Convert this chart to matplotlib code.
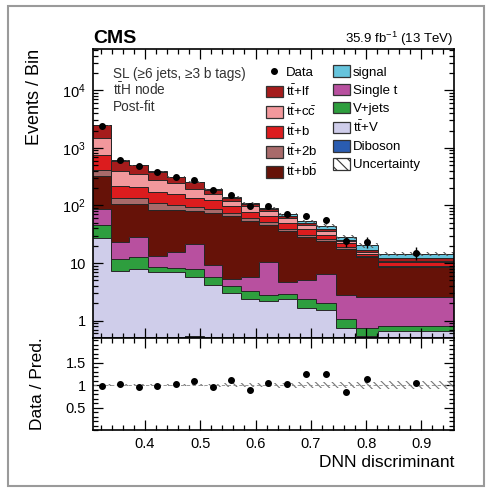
import matplotlib
matplotlib.use('Agg')
import matplotlib.pyplot as plt
import numpy as np
from matplotlib.patches import Patch, Rectangle
from matplotlib.lines import Line2D
from matplotlib.ticker import FixedLocator, MultipleLocator, LogLocator, NullFormatter

plt.rcParams['font.family'] = ['Liberation Sans', 'DejaVu Sans']
plt.rcParams['mathtext.fontset'] = 'custom'
plt.rcParams['mathtext.rm'] = 'Liberation Sans'
plt.rcParams['mathtext.it'] = 'Liberation Sans:italic'
plt.rcParams['mathtext.bf'] = 'Liberation Sans:bold'
plt.rcParams['hatch.linewidth'] = 0.8

# binning of the DNN output
edges = [0.306, 0.338, 0.372, 0.405, 0.439, 0.472, 0.506, 0.539, 0.573,
         0.606, 0.640, 0.675, 0.709, 0.745, 0.782, 0.821, 0.959]

# post-fit yields per bin
diboson = [0, 0, 0, 0, 0, 0.54, 0, 0, 0, 0, 0, 0, 0, 0, 0, 0]
ttv = [27.4, 7.4, 7.8, 7.1, 6.9, 5.1, 4.2, 3.0, 2.4, 2.2, 2.4, 1.66, 1.51, 0.76, 0.55, 0.65]
vjets = [17.5, 4.2, 4.7, 1.6, 1.4, 2.3, 1.6, 0.98, 0.91, 0.6, 0.56, 0.73, 0.49, 0.33, 0.21, 0.15]
singlet = [42.8, 11.4, 16.4, 4.8, 7.1, 13.6, 3.6, 1.4, 2.4, 7.5, 1.7, 2.6, 4.5, 1.74, 1.78, 1.74]
ttbb = [231, 81, 78, 71.5, 66.6, 59, 64.6, 59, 48.1, 35.5, 30.7, 23.3, 17.6, 14.9, 10.1, 6.0]
tt2b = [98, 32, 29, 25, 18, 13.6, 13, 9.6, 6.8, 5.9, 3.7, 3.0, 2.1, 1.1, 0.5, 0.5]
ttb = [325, 78, 72, 60, 55, 42.4, 35, 22, 16.4, 12.7, 9.6, 7.0, 5.1, 3.3, 1.3, 1.6]
ttcc = [758, 181, 138, 110, 89, 59, 38, 24, 19, 14.3, 10.8, 7.5, 4.7, 2.5, 1.4, 0.4]
ttlf = [956, 208, 148, 107, 64, 56, 28, 16, 11, 9.3, 6.3, 4.5, 3.8, 0.7, 1.2, 1.2]
signal = [4, 2.5, 2.5, 2.5, 2.5, 2.5, 3, 3, 3, 3.2, 4, 3, 4.2, 2.8, 3.2, 2.2]
data = [2411, 618, 477, 382, 317, 277, 183, 154, 98, 96, 71, 66, 55, 24, 23, 15]
rel_unc = [0.02, 0.02, 0.025, 0.025, 0.03, 0.03, 0.035, 0.04, 0.045, 0.05,
           0.055, 0.06, 0.065, 0.07, 0.08, 0.09]

# stack order, bottom to top
layers = [
    (diboson, '#2a5cb0', 'Diboson'),
    (ttv, '#cfcdea', r'$\mathrm{t\bar{t}}$+V'),
    (vjets, '#2e9e3e', 'V+jets'),
    (singlet, '#b8509f', 'Single t'),
    (ttbb, '#661208', r'$\mathrm{t\bar{t}}$+$\mathrm{b\bar{b}}$'),
    (tt2b, '#a86a6a', r'$\mathrm{t\bar{t}}$+2b'),
    (ttb, '#dc1c1e', r'$\mathrm{t\bar{t}}$+b'),
    (ttcc, '#f2989c', r'$\mathrm{t\bar{t}}$+$\mathrm{c\bar{c}}$'),
    (ttlf, '#a51c1c', r'$\mathrm{t\bar{t}}$+lf'),
    (signal, '#66c4dc', 'signal'),
]

edges = np.array(edges)
centers = 0.5 * (edges[1:] + edges[:-1])
data = np.array(data, dtype=float)
rel_unc = np.array(rel_unc)

W, H = 492, 488
fig = plt.figure(figsize=(W / 100, H / 100), dpi=100)
ax = fig.add_axes([93 / W, 1 - 338 / H, 361 / W, 289 / H])
rax = fig.add_axes([93 / W, 1 - 430 / H, 361 / W, 92 / H], sharex=ax)

# stacked histograms
cum = np.zeros(len(centers))
tops = []
for vals, col, lab in layers:
    base = cum.copy()
    cum = cum + np.array(vals, dtype=float)
    ax.stairs(cum, edges, baseline=np.maximum(base, 1e-3), fill=True,
              color=col, lw=0)
    tops.append(cum.copy())
for top in tops:
    ax.stairs(top, edges, baseline=None, color='#262626', lw=0.7)
total = cum

# uncertainty band
ax.stairs(total * (1 + rel_unc), edges, baseline=total * (1 - rel_unc),
          fill=True, facecolor='none', edgecolor='#555555', lw=0,
          hatch='\\\\\\\\')

ax.errorbar(centers, data, yerr=np.sqrt(data), fmt='o', color='k', ms=4,
            elinewidth=1, capsize=0, zorder=5)

ax.set_yscale('log')
ax.set_ylim(0.5, 5.2e4)
ax.set_xlim(edges[0], edges[-1])
ax.yaxis.set_major_locator(FixedLocator([1, 10, 100, 1000, 10000]))
ax.set_yticklabels(['1', '10', r'$10^2$', r'$10^3$', r'$10^4$'])
ax.yaxis.set_minor_locator(LogLocator(base=10, subs=np.arange(2, 10)))
ax.yaxis.set_minor_formatter(NullFormatter())
ax.tick_params(labelbottom=False)

# ratio panel
ratio = data / total
rax.stairs(1 + rel_unc, edges, baseline=1 - rel_unc, fill=True,
           facecolor='none', edgecolor='#777777', lw=0, hatch='\\\\\\\\')
rax.axhline(1, color='#888888', lw=0.6, ls=(0, (4, 3)))
rax.plot(centers, ratio, 'o', color='k', ms=4, zorder=5)
rax.set_ylim(0.0, 2.05)
rax.set_yticks([0.5, 1, 1.5])
rax.set_yticklabels(['0.5', '1', '1.5'])
rax.yaxis.set_minor_locator(MultipleLocator(0.1))
rax.xaxis.set_major_locator(MultipleLocator(0.1))
rax.xaxis.set_minor_locator(MultipleLocator(0.02))

for a in (ax, rax):
    a.tick_params(which='both', direction='in', top=True, right=True,
                  labelsize=10.5, width=0.9, pad=5)
    a.tick_params(which='major', length=7)
    a.tick_params(which='minor', length=3.5)
    for s in a.spines.values():
        s.set_linewidth(1.2)

ax.set_ylabel('Events / Bin', fontsize=13, loc='top')
ax.yaxis.set_label_coords(-0.1385, 1.0)
rax.set_ylabel('Data / Pred.', fontsize=12.5)
rax.yaxis.set_label_coords(-0.133, 0.5)
rax.set_xlabel('DNN discriminant', fontsize=12.5, loc='right')
rax.xaxis.set_label_coords(1.0, -0.27)

# labels above and inside the frame
fig.text(93 / W, 1 - 43 / H, 'CMS', fontsize=14, fontweight='bold',
         ha='left', va='baseline')
fig.text(453 / W, 1 - 43 / H, r'35.9 fb$^{-1}$ (13 TeV)', fontsize=9.5,
         ha='right', va='baseline')
ax.text(0.055, 0.90, 'SL (≥6 jets, ≥3 b tags)', transform=ax.transAxes,
        fontsize=9.8, color='#333333')
ax.text(0.055, 0.841, r'$\mathrm{t\bar{t}H}$ node', transform=ax.transAxes,
        fontsize=9.8, color='#333333')
ax.text(0.055, 0.785, 'Post-fit', transform=ax.transAxes,
        fontsize=9.8, color='#333333')

# legend, two columns
lookup = {lab: col for _, col, lab in layers}
def box(lab):
    return Patch(facecolor=lookup[lab], edgecolor='#333333', lw=0.9)
order1 = [r'$\mathrm{t\bar{t}}$+lf', r'$\mathrm{t\bar{t}}$+$\mathrm{c\bar{c}}$',
          r'$\mathrm{t\bar{t}}$+b', r'$\mathrm{t\bar{t}}$+2b',
          r'$\mathrm{t\bar{t}}$+$\mathrm{b\bar{b}}$']
order2 = ['signal', 'Single t', 'V+jets', r'$\mathrm{t\bar{t}}$+V', 'Diboson']
handles = [Line2D([], [], marker='o', color='k', ls='none', ms=4)]
labels = ['Data']
handles += [box(l) for l in order1]
labels += order1
handles += [box(l) for l in order2]
labels += order2
handles.append(Patch(facecolor='white', edgecolor='#333333', lw=0.9,
                     hatch='\\\\\\'))
labels.append('Uncertainty')
ax.legend(handles, labels, ncol=2, loc='upper left',
          bbox_to_anchor=(0.479, 0.943), frameon=False, fontsize=9.5,
          borderpad=0, borderaxespad=0, handlelength=1.3, handleheight=1.0,
          handletextpad=0.2, labelspacing=0.35, columnspacing=1.2)

# outer frame
fig.add_artist(Rectangle((8 / W, 1 - 486 / H), 476 / W, 480 / H,
                         transform=fig.transFigure, fill=False,
                         ec='#9a9a9a', lw=1.5))

fig.savefig('out.png', dpi=100)
